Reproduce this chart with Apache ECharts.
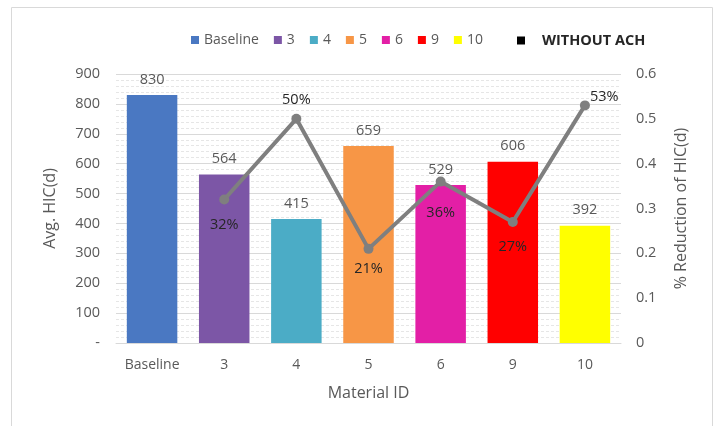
<!DOCTYPE html>
<html>
<head>
<meta charset="utf-8">
<script src="https://cdn.jsdelivr.net/npm/echarts@6/dist/echarts.min.js"></script>
<style>
  html, body { margin: 0; padding: 0; background: #fff; }
  #main { width: 714px; height: 426px; }
</style>
</head>
<body>
<div id="main"></div>
<script>
var categories = ['Baseline', '3', '4', '5', '6', '9', '10'];
var hicValues = [830, 564, 415, 659, 529, 606, 392];
var reductionValues = [null, 0.32, 0.50, 0.21, 0.36, 0.27, 0.53];
var barColors = ['#4a78c2', '#7c56a6', '#4bacc6', '#f79646', '#e31fa6', '#ff0000', '#ffff00'];
var leftTicks = [0, 900, 100];
var rightTicks = [0, 0.6, 0.1];

var myChart = echarts.init(document.getElementById('main'));

var font = 'Open Sans';
var grey = '#595959';

// where each % label sits around its point
var labelPlace = {
    1: { position: 'bottom', distance: 13 },
    2: { position: 'top', distance: 6 },
    3: { position: 'bottom', distance: 8 },
    4: { position: 'bottom', distance: 19 },
    5: { position: 'bottom', distance: 12 },
    6: { position: 'right', distance: 0, offset: [0, -9] }
};

// one series per material so each gets its own legend entry
var series = categories.map(function (name, i) {
    return {
        name: name,
        type: 'bar',
        stack: 'hic',
        barWidth: '70%',
        itemStyle: { color: barColors[i] },
        label: {
            show: true,
            position: 'top',
            distance: 8,
            color: grey,
            fontSize: 14.5,
            fontFamily: font
        },
        data: hicValues.map(function (v, j) { return j === i ? v : null; })
    };
});

series.push({
    name: 'WITHOUT ACH',
    type: 'line',
    yAxisIndex: 1,
    symbol: 'circle',
    symbolSize: 10,
    lineStyle: { color: '#7f7f7f', width: 4 },
    itemStyle: { color: '#7f7f7f' },
    z: 5,
    data: reductionValues.map(function (v, j) {
        if (v === null) return null;
        var p = labelPlace[j];
        return {
            value: v,
            label: {
                show: true,
                position: p.position,
                distance: p.distance,
                offset: p.offset || [0, 0],
                formatter: function (d) { return Math.round(d.value * 100) + '%'; },
                color: '#262626',
                fontSize: 14.5,
                fontFamily: font
            }
        };
    })
});

var option = {
    animation: false,
    graphic: [{
        type: 'rect',
        shape: { x: 11.5, y: 7.5, width: 701, height: 430 },
        style: { fill: 'none', stroke: '#d9d9d9', lineWidth: 1 },
        silent: true
    }],
    legend: [{
        data: categories,
        left: 186,
        top: 28,
        itemWidth: 8,
        itemHeight: 8,
        itemGap: 15,
        icon: 'rect',
        textStyle: { color: grey, fontSize: 14, fontFamily: font }
    }, {
        data: [{
            name: 'WITHOUT ACH',
            icon: 'rect',
            itemStyle: { color: '#000' }
        }],
        left: 512,
        top: 28,
        itemWidth: 8,
        itemHeight: 8,
        textStyle: { color: '#262626', fontSize: 14.5, fontWeight: 'bold', fontFamily: font, padding: [0, 0, 0, 12] }
    }],
    grid: {
        left: 116,
        right: 93,
        top: 74,
        bottom: 83
    },
    xAxis: {
        type: 'category',
        data: categories,
        name: 'Material ID',
        nameLocation: 'middle',
        nameGap: 42,
        nameTextStyle: { color: grey, fontSize: 16, fontFamily: font },
        axisLine: { lineStyle: { color: '#d9d9d9' } },
        axisTick: { show: false },
        axisLabel: { color: grey, fontSize: 14, fontFamily: font, margin: 15, interval: 0 }
    },
    yAxis: [{
        type: 'value',
        min: leftTicks[0],
        max: leftTicks[1],
        interval: leftTicks[2],
        name: 'Avg. HIC(d)',
        nameLocation: 'middle',
        nameGap: 58,
        nameTextStyle: { color: grey, fontSize: 16, fontFamily: font },
        axisLine: { show: false },
        axisTick: { show: false },
        axisLabel: {
            color: grey, fontSize: 14.5, fontFamily: font, margin: 16,
            formatter: function (v) { return v === 0 ? '-' : v; }
        },
        splitLine: { lineStyle: { color: '#d9d9d9' } },
        minorTick: { show: false, splitNumber: 5 },
        minorSplitLine: { show: true, lineStyle: { color: '#e6e6e6', type: [3, 2] } }
    }, {
        type: 'value',
        min: rightTicks[0],
        max: rightTicks[1],
        interval: rightTicks[2],
        name: '% Reduction of HIC(d)',
        nameLocation: 'middle',
        nameGap: 52,
        nameRotate: 90,
        nameTextStyle: { color: grey, fontSize: 16, fontFamily: font },
        axisLine: { show: false },
        axisTick: { show: false },
        splitLine: { show: false },
        axisLabel: { color: grey, fontSize: 14.5, fontFamily: font, margin: 15 }
    }],
    series: series
};

myChart.setOption(option);
</script>
</body>
</html>
